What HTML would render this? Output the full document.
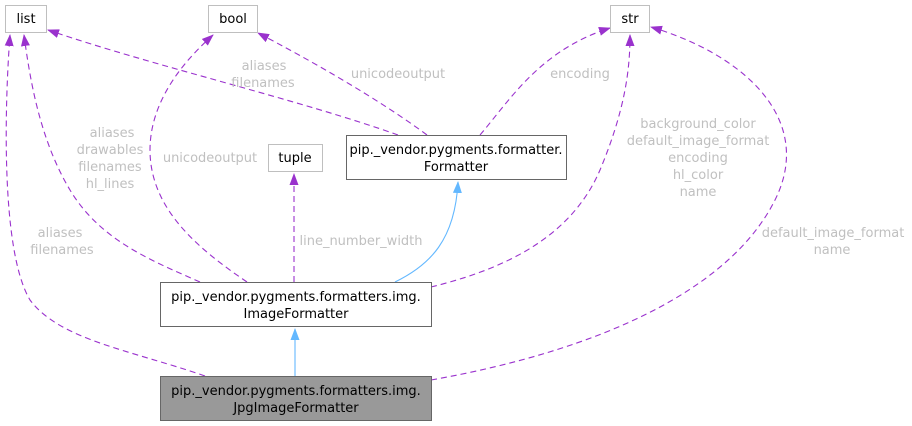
<!DOCTYPE html>
<html><head><style>html,body{margin:0;padding:0;background:#fff}svg{display:block}</style></head>
<body>
<svg width="912" height="426" viewBox="0 0 912 426" xmlns="http://www.w3.org/2000/svg" font-family="'DejaVu Sans','Liberation Sans',sans-serif" font-size="13">
<defs>
<marker id="p" markerWidth="12" markerHeight="12" refX="11" refY="6" orient="auto" markerUnits="userSpaceOnUse"><path d="M0,1.5 L12,6 L0,10.5 z" fill="#9a32cd"/></marker>
<marker id="b" markerWidth="12" markerHeight="12" refX="11" refY="6" orient="auto" markerUnits="userSpaceOnUse"><path d="M0,1.5 L12,6 L0,10.5 z" fill="#63b8ff"/></marker>
</defs>
<g fill="none" stroke="#9a32cd" stroke-dasharray="6,4" stroke-width="1.1">
<path d="M205,376 C130,350 60,340 30,300 C0,250 5,100 10,35" marker-end="url(#p)"/>
<path d="M200,282 C150,260 100,240 70,190 C40,140 30,80 24,35" marker-end="url(#p)"/>
<path d="M398,135 C300,100 150,65 48,30" marker-end="url(#p)"/>
<path d="M247,282 C200,250 150,210 150,150 C150,100 185,60 213,35" marker-end="url(#p)"/>
<path d="M427,135 C380,100 310,60 258,33" marker-end="url(#p)"/>
<path d="M294,282 L294,174" marker-end="url(#p)"/>
<path d="M480,135 C510,100 540,50 610,28" marker-end="url(#p)"/>
<path d="M431,287 C500,270 570,240 600,170 C625,110 630,70 630,35" marker-end="url(#p)"/>
<path d="M431,380 C600,350 730,290 775,200 C815,120 745,55 651,27" marker-end="url(#p)"/>
</g>
<g fill="none" stroke="#63b8ff" stroke-width="1.1">
<path d="M395,282 C430,265 455,240 458,182" marker-end="url(#b)"/>
<path d="M295,376 L295,329" marker-end="url(#b)"/>
</g>
<g stroke="#bfbfbf" fill="#fff">
<rect x="5.5" y="5.5" width="41" height="27"/>
<rect x="208.5" y="5.5" width="49" height="27"/>
<rect x="610.5" y="5.5" width="39" height="27"/>
<rect x="268.5" y="144.5" width="54" height="27"/>
</g>
<g stroke="#666" fill="#fff">
<rect x="346.5" y="135.5" width="220" height="44"/>
<rect x="160.5" y="282.5" width="271" height="44"/>
<rect x="160.5" y="376.5" width="271" height="44" fill="#999"/>
</g>
<g fill="#000" text-anchor="middle">
<text x="26" y="23">list</text>
<text x="233" y="23">bool</text>
<text x="630" y="23">str</text>
<text x="295" y="162">tuple</text>
<text x="456" y="154">pip._vendor.pygments.formatter.</text>
<text x="456" y="171">Formatter</text>
<text x="296" y="301">pip._vendor.pygments.formatters.img.</text>
<text x="296" y="318">ImageFormatter</text>
<text x="296" y="395">pip._vendor.pygments.formatters.img.</text>
<text x="296" y="412">JpgImageFormatter</text>
</g>
<g fill="#c0c0c0" text-anchor="middle">
<text x="60" y="237">aliases</text><text x="62" y="254">filenames</text>
<text x="112" y="137">aliases</text><text x="110" y="154">drawables</text><text x="110" y="171">filenames</text><text x="110" y="188">hl_lines</text>
<text x="210" y="162">unicodeoutput</text>
<text x="264" y="70">aliases</text><text x="263" y="87">filenames</text>
<text x="398" y="78">unicodeoutput</text>
<text x="580" y="78">encoding</text>
<text x="361" y="245">line_number_width</text>
<text x="698" y="128">background_color</text><text x="698" y="145">default_image_format</text><text x="698" y="162">encoding</text><text x="698" y="179">hl_color</text><text x="698" y="196">name</text>
<text x="833" y="237">default_image_format</text><text x="832" y="254">name</text>
</g>
</svg>
</body></html>
